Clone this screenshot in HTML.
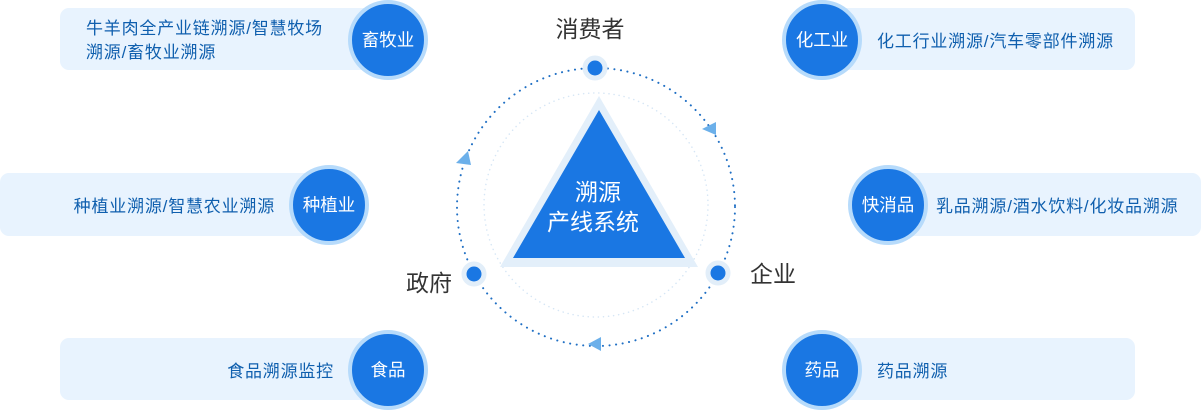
<!DOCTYPE html>
<html><head><meta charset="utf-8"><style>
html,body{margin:0;padding:0;background:#fff;}
svg{display:block;font-family:"Liberation Sans","Noto Sans CJK SC",sans-serif;}
</style></head><body>
<svg width="1201" height="410" viewBox="0 0 1201 410" xmlns="http://www.w3.org/2000/svg">
<g fill="#e8f3fe">
<rect x="60" y="8" width="330" height="62" rx="9"/>
<rect x="0" y="173" width="330" height="63" rx="9"/>
<rect x="60" y="338" width="330" height="62" rx="9"/>
<rect x="822" y="8" width="313" height="62" rx="9"/>
<rect x="888" y="173" width="313" height="63" rx="9"/>
<rect x="822" y="338" width="313" height="62" rx="9"/>
</g>
<g fill="#1a77e3" stroke="#b7dbfb" stroke-width="4">
<circle cx="388" cy="40" r="38"/>
<circle cx="329" cy="205" r="38"/>
<circle cx="388" cy="370" r="38"/>
<circle cx="822" cy="40" r="38"/>
<circle cx="888" cy="205" r="38"/>
<circle cx="822" cy="370" r="38"/>
</g>
<g fill="#fff" font-size="17.5" text-anchor="middle">
<text x="388" y="46">畜牧业</text>
<text x="329" y="211">种植业</text>
<text x="388" y="376">食品</text>
<text x="822" y="46">化工业</text>
<text x="888" y="211">快消品</text>
<text x="822" y="376">药品</text>
</g>
<g fill="#0f5fae" font-size="17" letter-spacing="0.8">
<text x="86" y="34">牛羊肉全产业链溯源/智慧牧场</text>
<text x="86" y="58">溯源/畜牧业溯源</text>
<text x="275" y="212" text-anchor="end">种植业溯源/智慧农业溯源</text>
<text x="334" y="377" text-anchor="end">食品溯源监控</text>
<text x="877" y="47">化工行业溯源/汽车零部件溯源</text>
<text x="936" y="212">乳品溯源/酒水饮料/化妆品溯源</text>
<text x="877" y="377">药品溯源</text>
</g>
<circle cx="596" cy="207" r="139" fill="none" stroke="#1f6fc4" stroke-width="2" stroke-dasharray="0.1 6.5" stroke-linecap="round"/>
<circle cx="596" cy="205" r="112" fill="none" stroke="#d6e6f5" stroke-width="1.5" stroke-dasharray="0.1 5" stroke-linecap="round"/>
<polygon points="599,96 500,267 698,267" fill="#e3effa"/>
<polygon points="599,110 513,258 685,258" fill="#1a77e3"/>
<text x="598" y="200" fill="#fff" font-size="23" text-anchor="middle">溯源</text>
<text x="593" y="230" fill="#fff" font-size="23" text-anchor="middle">产线系统</text>
<g fill="#6cb0ea">
<polygon points="702,129 716,122 716,135"/>
<polygon points="456,163 468,151 471,165"/>
<polygon points="588,344 601,337 601,351"/>
</g>
<g fill="#1a77e3" stroke="#e2eef9" stroke-width="5">
<circle cx="595" cy="68" r="10"/>
<circle cx="474" cy="274" r="10"/>
<circle cx="718" cy="273" r="10"/>
</g>
<g fill="#333" font-size="23" text-anchor="middle">
<text x="590" y="37">消费者</text>
<text x="429" y="291">政府</text>
<text x="773" y="282">企业</text>
</g>
</svg>
</body></html>
